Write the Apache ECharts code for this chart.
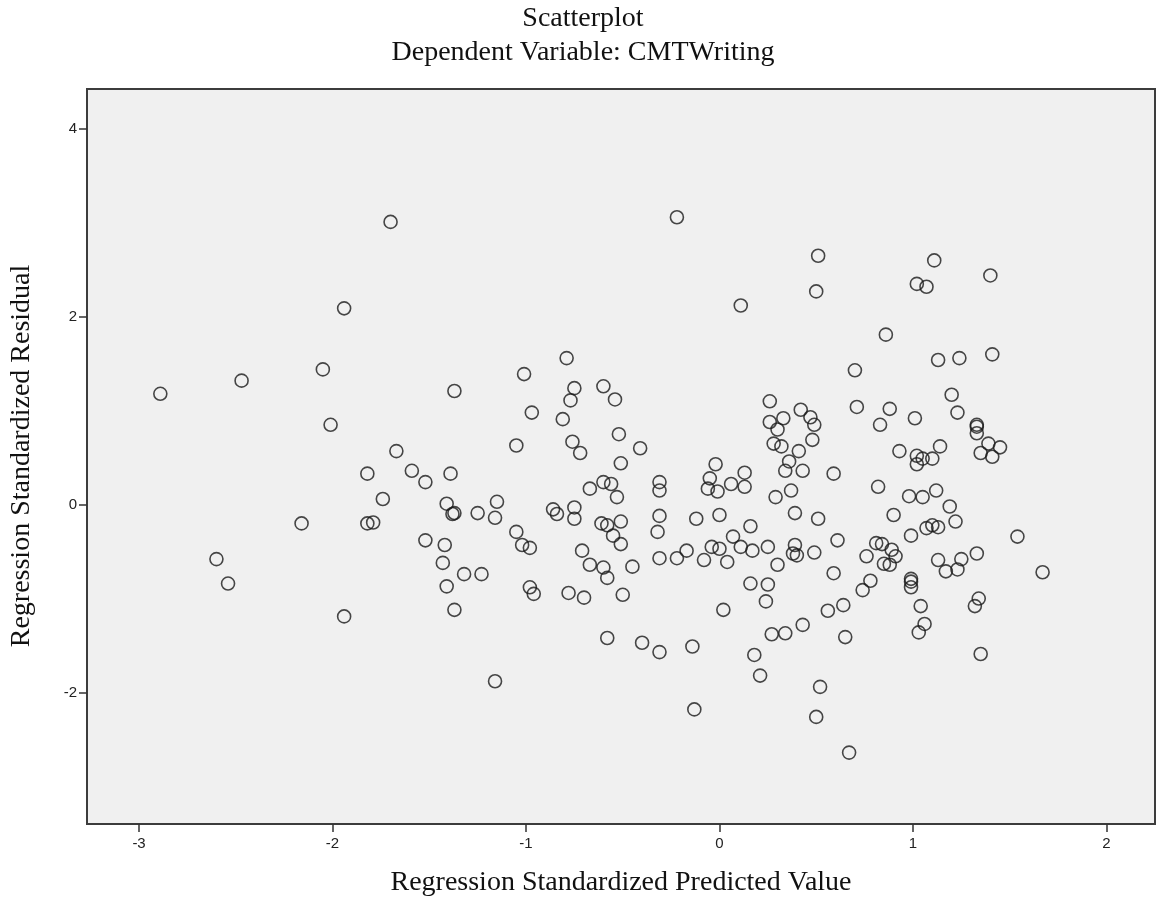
<!DOCTYPE html>
<html><head><meta charset="utf-8">
<script src="https://cdn.jsdelivr.net/npm/echarts@6/dist/echarts.min.js"></script>
<style>html,body{margin:0;padding:0;background:#fff}#c{width:1165px;height:913px}</style>
</head><body><div id="c"></div>
<script>
// Regression Standardized Predicted Value (x)
const predicted = [
-1.70,-1.94,-2.05,-2.47,-2.89,
-0.22,0.11,-0.79,-1.01,-1.37,-0.75,-0.60,
0.51,0.50,1.11,1.02,1.07,1.40,0.86,0.70,1.13,1.24,1.41,1.20,
-2.01,-1.67,-1.82,-1.59,-1.52,-1.74,-2.16,-1.82,-1.79,-1.52,-2.60,-2.54,
-0.77,-0.54,-0.97,-0.81,-0.52,-0.76,-0.72,-0.41,-1.05,-0.51,-1.39,-0.67,-0.60,-0.56,-0.53,-0.31,-0.31,
-0.02,-0.05,-0.06,-0.01,0.06,0.13,0.13,0.26,0.26,0.33,0.30,0.28,0.32,0.36,0.34,0.29,
-1.41,-1.37,-1.38,-1.25,-1.15,-1.16,-1.42,-1.43,-1.32,-1.23,-1.41,-1.05,-1.02,-0.98,-0.86,-0.84,-0.75,-0.75,
-0.61,-0.58,-0.51,-0.55,-0.51,-0.71,-0.67,-0.60,-0.58,-0.45,-0.31,-0.32,-0.31,-0.22,-0.17,-0.12,0.00,
-0.08,-0.04,0.00,0.04,0.07,0.11,0.16,0.17,0.25,0.30,0.16,0.25,
-1.37,-0.98,-0.96,-0.78,-0.70,-0.50,-1.16,-0.58,-0.40,-0.31,-0.14,-0.13,0.02,0.24,0.18,0.21,0.27,0.34,
0.42,0.47,0.49,0.71,0.88,0.83,1.01,1.23,1.33,1.33,1.33,1.39,1.45,1.35,1.41,
0.48,0.41,0.43,0.59,0.93,1.02,1.05,1.02,1.10,1.14,
0.37,0.82,0.98,1.05,1.12,1.19,1.22,0.39,0.51,0.90,0.99,1.07,1.10,1.13,1.54,
0.39,0.38,0.40,0.49,0.61,0.59,0.76,0.81,0.84,0.89,0.91,0.85,0.88,1.13,1.25,1.33,1.17,1.23,1.67,
0.78,0.99,0.99,
0.74,0.64,0.56,0.43,0.65,0.99,1.04,1.06,1.03,1.34,1.32,1.35,0.52,0.50,0.67,
-1.94
];
// Regression Standardized Residual (y)
const residual = [
3.01,2.09,1.44,1.32,1.18,
3.06,2.12,1.56,1.39,1.21,1.24,1.26,
2.65,2.27,2.60,2.35,2.32,2.44,1.81,1.43,1.54,1.56,1.60,1.17,
0.85,0.57,0.33,0.36,0.24,0.06,-0.20,-0.20,-0.19,-0.38,-0.58,-0.84,
1.11,1.12,0.98,0.91,0.75,0.67,0.55,0.60,0.63,0.44,0.33,0.17,0.24,0.22,0.08,0.24,0.15,
0.43,0.28,0.17,0.14,0.22,0.34,0.19,1.10,0.88,0.92,0.80,0.65,0.62,0.46,0.36,0.08,
0.01,-0.09,-0.10,-0.09,0.03,-0.14,-0.43,-0.62,-0.74,-0.74,-0.87,-0.29,-0.43,-0.46,-0.05,-0.10,-0.03,-0.15,
-0.20,-0.22,-0.18,-0.33,-0.42,-0.49,-0.64,-0.67,-0.78,-0.66,-0.12,-0.29,-0.57,-0.57,-0.49,-0.15,-0.11,
-0.59,-0.45,-0.47,-0.61,-0.34,-0.45,-0.23,-0.49,-0.45,-0.64,-0.84,-0.85,
-1.12,-0.88,-0.95,-0.94,-0.99,-0.96,-1.88,-1.42,-1.47,-1.57,-1.51,-2.18,-1.12,-1.03,-1.60,-1.82,-1.38,-1.37,
1.01,0.93,0.85,1.04,1.02,0.85,0.92,0.98,0.85,0.83,0.76,0.65,0.61,0.55,0.51,
0.69,0.57,0.36,0.33,0.57,0.52,0.49,0.43,0.49,0.62,
0.15,0.19,0.09,0.08,0.15,-0.02,-0.18,-0.09,-0.15,-0.11,-0.33,-0.25,-0.22,-0.24,-0.34,
-0.43,-0.52,-0.54,-0.51,-0.38,-0.73,-0.55,-0.41,-0.42,-0.48,-0.55,-0.63,-0.64,-0.59,-0.58,-0.52,-0.71,-0.69,-0.72,
-0.81,-0.79,-0.82,
-0.91,-1.07,-1.13,-1.28,-1.41,-0.88,-1.08,-1.27,-1.36,-1.00,-1.08,-1.59,-1.94,-2.26,-2.64,
-1.19
];
const xTickValues = [-3, -2, -1, 0, 1, 2];
const yTickValues = [-2, 0, 2, 4];
const titleText = 'Scatterplot';
const subtitleText = 'Dependent Variable: CMTWriting';
const xAxisTitle = 'Regression Standardized Predicted Value';
const yAxisTitle = 'Regression Standardized Residual';

const points = predicted.map((x, i) => [x, residual[i]]);
const chart = echarts.init(document.getElementById('c'), null, {renderer: 'canvas'});
const serif = '"Liberation Serif", "Times New Roman", serif';
const sans = '"Liberation Sans", Arial, sans-serif';
const tickStyle = {show: true, inside: false, length: 8, lineStyle: {color: '#333', width: 1.5}};
chart.setOption({
  animation: false,
  backgroundColor: '#ffffff',
  grid: {left: 87, right: 10, top: 89, bottom: 89, show: true,
    backgroundColor: '#f0f0f0', borderColor: '#3c3c3c', borderWidth: 2},
  xAxis: {
    type: 'value', min: -3.269, max: 2.251,
    axisLine: {show: false, onZero: false},
    axisTick: Object.assign({customValues: xTickValues}, tickStyle),
    axisLabel: {customValues: xTickValues, color: '#222', fontFamily: sans, fontSize: 15, margin: 12},
    splitLine: {show: false}
  },
  yAxis: {
    type: 'value', min: -3.40, max: 4.425,
    axisLine: {show: false, onZero: false},
    axisTick: Object.assign({customValues: yTickValues}, tickStyle),
    axisLabel: {customValues: yTickValues, color: '#222', fontFamily: sans, fontSize: 15, margin: 10},
    splitLine: {show: false}
  },
  graphic: [
    {type: 'text', x: 583, y: 19, style: {text: titleText, font: '28px ' + serif, fill: '#111', textAlign: 'center', textVerticalAlign: 'middle'}},
    {type: 'text', x: 583, y: 53, style: {text: subtitleText, font: '28px ' + serif, fill: '#111', textAlign: 'center', textVerticalAlign: 'middle'}},
    {type: 'text', x: 621, y: 883, style: {text: xAxisTitle, font: '28px ' + serif, fill: '#111', textAlign: 'center', textVerticalAlign: 'middle'}},
    {type: 'text', x: 22, y: 456, rotation: Math.PI / 2, style: {text: yAxisTitle, font: '28px ' + serif, fill: '#111', textAlign: 'center', textVerticalAlign: 'middle'}}
  ],
  series: [{
    type: 'scatter',
    data: points,
    symbol: 'circle',
    symbolSize: 13,
    itemStyle: {color: 'rgba(0,0,0,0)', borderColor: '#1a1a1a', borderWidth: 1.6},
    emphasis: {disabled: true}
  }]
});
</script></body></html>
